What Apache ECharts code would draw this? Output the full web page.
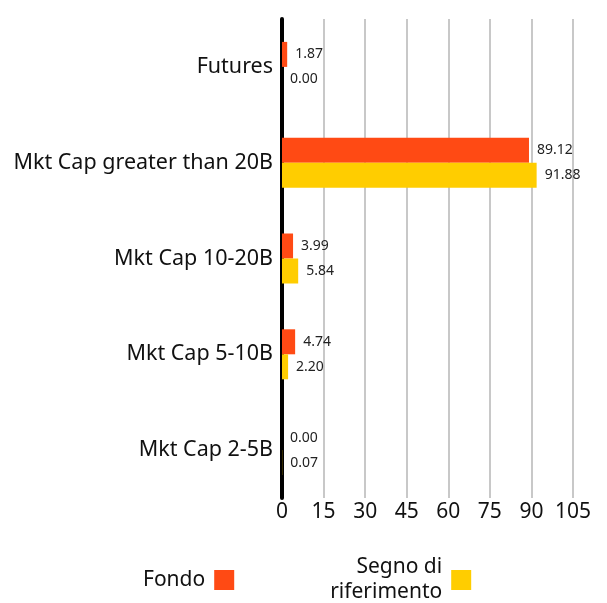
<!DOCTYPE html>
<html><head><meta charset="utf-8">
<script src="https://cdn.jsdelivr.net/npm/echarts@6/dist/echarts.min.js"></script>
<style>html,body{margin:0;padding:0;background:#fff}#c{width:607px;height:603px}</style>
</head><body><div id="c"></div>
<script>
const categories = ["Futures", "Mkt Cap greater than 20B", "Mkt Cap 10-20B", "Mkt Cap 5-10B", "Mkt Cap 2-5B"];
const fondo = [1.87, 89.12, 3.99, 4.74, 0.00];
const benchmark = [0.00, 91.88, 5.84, 2.20, 0.07];
const seriesNames = ["Fondo", "Segno di riferimento"];
const xTicks = [0, 15, 30, 45, 60, 75, 90, 105];

const font = "Noto Sans";
const chart = echarts.init(document.getElementById('c'), null, {renderer: 'canvas'});
const labelCfg = {show: true, position: 'right', distance: 8, fontFamily: font, fontSize: 14, color: '#222',
  formatter: p => p.value.toFixed(2)};
chart.setOption({
  animation: false,
  grid: {left: 282, right: 34, top: 19, bottom: 105, containLabel: false},
  legend: {
    top: 550, left: 138, itemWidth: 20, itemHeight: 20, itemGap: 96, align: 'right',
    icon: 'rect',
    textStyle: {fontFamily: font, fontSize: 21, color: '#111', lineHeight: 25, padding: [0, 4, 0, 0]},
    formatter: n => n === "Segno di riferimento" ? "Segno di\nriferimento" : n,
    data: seriesNames
  },
  xAxis: {
    type: 'value', min: xTicks[0], max: xTicks[xTicks.length - 1], interval: 15,
    axisLine: {show: false}, axisTick: {show: false},
    splitLine: {show: true, lineStyle: {color: '#c8c8c8', width: 2}},
    axisLabel: {fontFamily: font, fontSize: 21, color: '#111', margin: 4, showMaxLabel: true}
  },
  yAxis: {
    type: 'category', data: categories, inverse: true,
    axisLine: {show: true, lineStyle: {color: '#000', width: 4}},
    axisTick: {show: false},
    axisLabel: {fontFamily: font, fontSize: 21.5, color: '#111', margin: 9}
  },
  series: [
    {name: seriesNames[0], type: 'bar', data: fondo, barWidth: 25, barGap: '0%',
     itemStyle: {color: '#ff4a14'}, label: labelCfg},
    {name: seriesNames[1], type: 'bar', data: benchmark, barWidth: 25, barGap: '0%',
     itemStyle: {color: '#ffcd00'}, label: labelCfg}
  ]
});
</script></body></html>
